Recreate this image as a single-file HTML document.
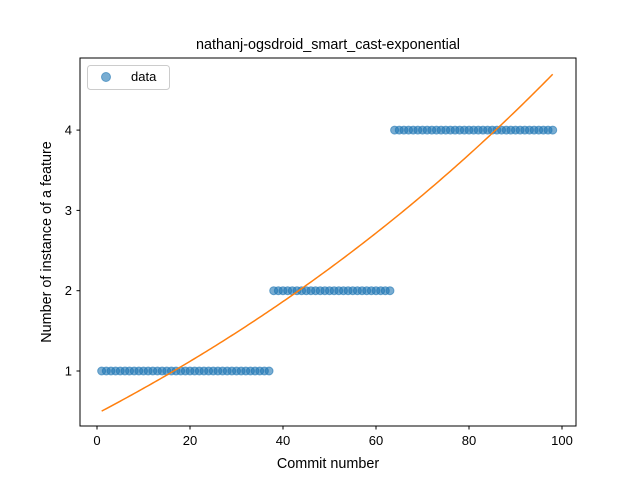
<!DOCTYPE html>
<html><head><meta charset="utf-8"><style>
body{margin:0;background:#fff;}
svg text{font-family:"Liberation Sans","DejaVu Sans",sans-serif;}
</style></head><body>
<svg width="640" height="480" xmlns="http://www.w3.org/2000/svg">
<rect width="640" height="480" fill="#fff"/>
<g id="marks"></g>
<rect x="80" y="58" width="496" height="368" fill="none" stroke="#000" stroke-width="1"/>
<g id="axes"></g>
<text x="328" y="49" text-anchor="middle" font-size="14.4">nathanj-ogsdroid_smart_cast-exponential</text>
<text x="328" y="468" text-anchor="middle" font-size="14.4">Commit number</text>
<text transform="translate(51,242) rotate(-90)" text-anchor="middle" font-size="14.4">Number of instance of a feature</text>
<g>
<rect x="87.5" y="65.5" width="82" height="24" rx="3" fill="#fff" fill-opacity="0.8" stroke="#ccc"/>
<circle cx="106" cy="77" r="4.5" fill="#1f77b4" fill-opacity="0.6" stroke="#1f77b4" stroke-opacity="0.6"/>
<text x="131" y="81" font-size="13">data</text>
</g>
</svg>
<script>
const xTicks=[0,20,40,60,80,100];
const yTicks=[1,2,3,4];
const segStarts=[1,38,64];
const segEnds=[37,63,98];
const segValues=[1,2,4];
const fitA=4.47, fitB=0.00679, fitC=-4;
const X=v=>97+4.65*v;
const Y=v=>451.3-80.3*v;
const NS="http://www.w3.org/2000/svg";
const marks=document.getElementById('marks'),axes=document.getElementById('axes');
function mk(t,a,p){const e=document.createElementNS(NS,t);for(const k in a)e.setAttribute(k,a[k]);p.appendChild(e);return e;}
for(let s=0;s<segStarts.length;s++){for(let x=segStarts[s];x<=segEnds[s];x++){
const c=mk('circle',{cx:X(x),cy:Y(segValues[s]),r:4,fill:'#1f77b4','fill-opacity':0.6,stroke:'#1f77b4','stroke-opacity':0.6},marks);

}}
let d='';for(let x=1;x<=98;x+=0.5){d+=(d?'L':'M')+X(x).toFixed(2)+','+Y(fitA*Math.exp(fitB*x)+fitC).toFixed(2);}
const fl=mk('path',{d:d,fill:'none',stroke:'#ff7f0e','stroke-width':1.5},marks);


xTicks.forEach(t=>{mk('line',{x1:X(t),x2:X(t),y1:426,y2:429.5,stroke:'#000'},axes);
const tx=mk('text',{x:X(t),y:445,'text-anchor':'middle','font-size':13},axes);tx.textContent=t;

});
yTicks.forEach(t=>{mk('line',{x1:76.5,x2:80,y1:Y(t),y2:Y(t),stroke:'#000'},axes);
const tx=mk('text',{x:72,y:Y(t)+4.5,'text-anchor':'end','font-size':13},axes);tx.textContent=t;

});
</script>
</body></html>
